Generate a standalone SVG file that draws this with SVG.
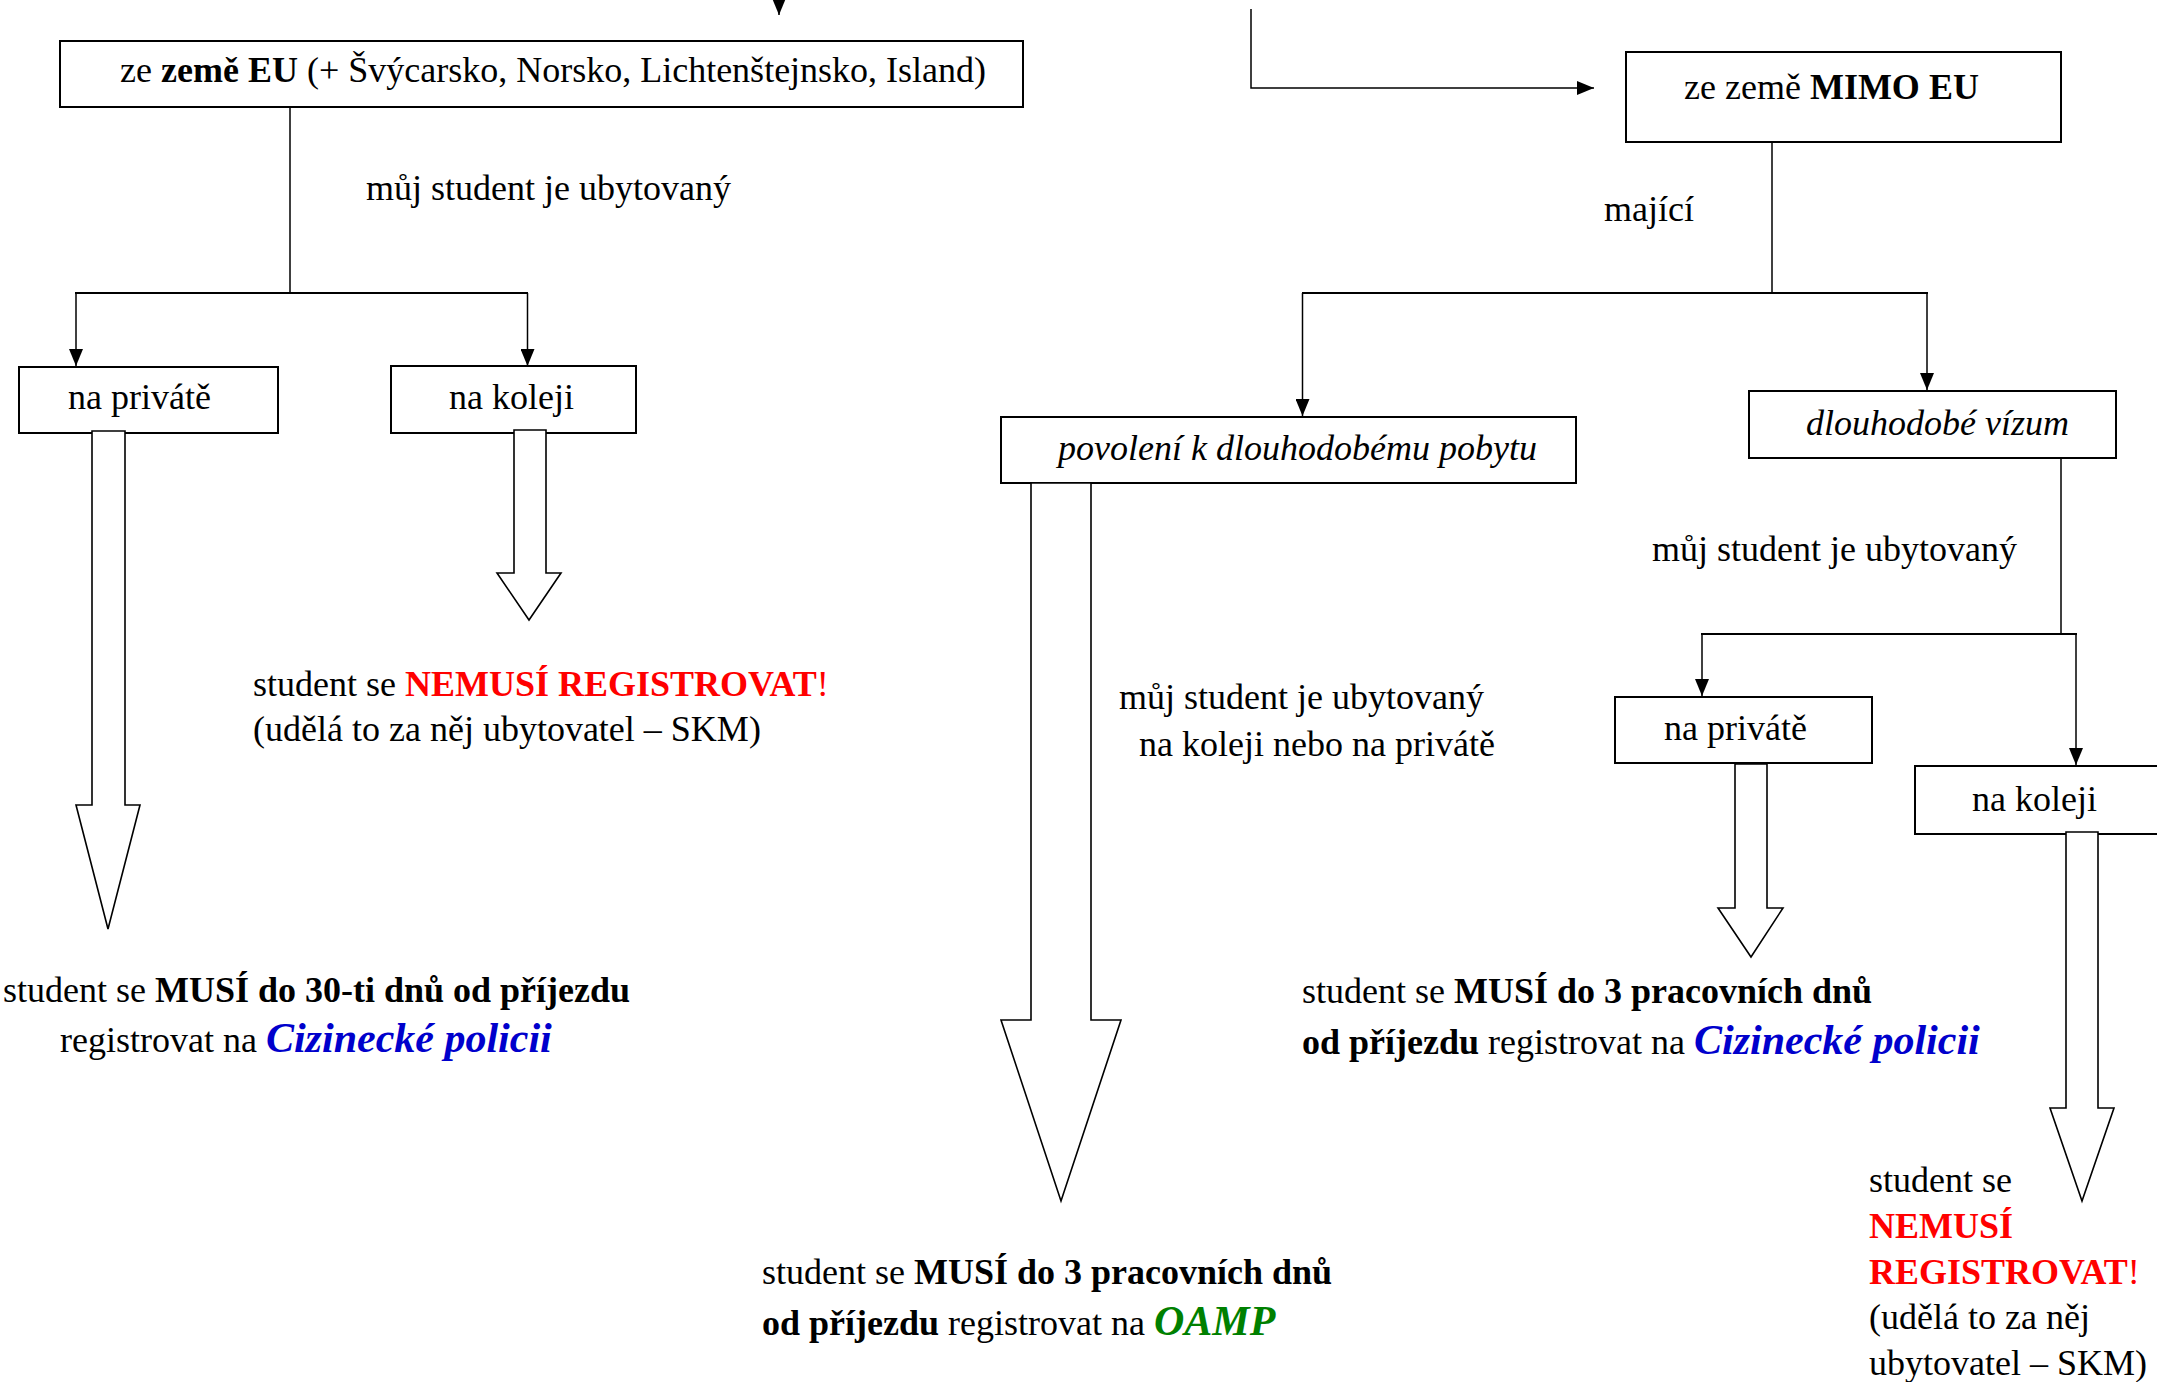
<svg xmlns="http://www.w3.org/2000/svg" width="2157" height="1382" viewBox="0 0 2157 1382">
<style>
text{font-family:"Liberation Serif","Times New Roman",serif;font-size:36px;fill:#000}
.b{font-weight:bold}
.i{font-style:italic}
.red{fill:#FF0000}
.blue{fill:#0000CC;font-weight:bold;font-style:italic;font-size:42px}
.green{fill:#008000;font-weight:bold;font-style:italic;font-size:42px}
.box{fill:#fff;stroke:#000;stroke-width:2}
.blk{fill:#fff;stroke:#000;stroke-width:1.6;stroke-linejoin:miter}
.ln{fill:none;stroke:#000;stroke-width:1.5}
.hl{fill:none;stroke:#000;stroke-width:2.2}
.ar{fill:none;stroke:#000;stroke-width:1.5;marker-end:url(#ah)}
</style>
<defs>
<marker id="ah" markerUnits="userSpaceOnUse" markerWidth="17" markerHeight="14" refX="17" refY="7" orient="auto">
<path d="M0,0 L17,7 L0,14 z" fill="#000"/>
</marker>
</defs>
<rect width="2157" height="1382" fill="#fff"/>

<g id="connectors">
<line class="ar" x1="779" y1="-20" x2="779" y2="15"/>
<polyline class="ar" points="1251,9 1251,88 1594,88"/>
<line class="ln" x1="290" y1="107" x2="290" y2="293"/>
<line class="hl" x1="75" y1="293" x2="528" y2="293"/>
<line class="ar" x1="76" y1="293" x2="76" y2="366"/>
<line class="ar" x1="527.5" y1="293" x2="527.5" y2="366"/>
<line class="ln" x1="1772" y1="142" x2="1772" y2="293"/>
<line class="hl" x1="1302" y1="293" x2="1928" y2="293"/>
<line class="ar" x1="1302.5" y1="293" x2="1302.5" y2="416"/>
<line class="ar" x1="1927" y1="293" x2="1927" y2="390"/>
<line class="ln" x1="2061" y1="457" x2="2061" y2="634"/>
<line class="hl" x1="1701" y1="634" x2="2077" y2="634"/>
<line class="ar" x1="1702" y1="634" x2="1702" y2="696"/>
<line class="ar" x1="2076" y1="634" x2="2076" y2="765"/>
</g>

<g id="node-eu">
<rect class="box" x="60" y="41" width="963" height="66"/>
<text x="120" y="82">ze <tspan class="b">země EU</tspan> (+ Švýcarsko, Norsko, Lichtenštejnsko, Island)</text>
</g>
<g id="label-eu-ubyt"><text x="366" y="200">můj student je ubytovaný</text></g>

<g id="node-eu-privat">
<rect class="box" x="19" y="367" width="259" height="66"/>
<text x="68" y="409">na privátě</text>
</g>
<g id="node-eu-kolej">
<rect class="box" x="391" y="366" width="245" height="67"/>
<text x="449" y="409">na koleji</text>
</g>

<g id="arrow-eu-privat"><polygon class="blk" points="92,431 125,431 125,805 140,805 108,929 76,805 92,805"/></g>
<g id="arrow-eu-kolej"><polygon class="blk" points="514,430 546,430 546,573 561,573 529,620 497,573 514,573"/></g>

<g id="result-eu-kolej">
<text x="253" y="696">student se <tspan class="b red">NEMUSÍ REGISTROVAT</tspan><tspan class="red">!</tspan></text>
<text x="253" y="741">(udělá to za něj ubytovatel – SKM)</text>
</g>
<g id="result-eu-privat">
<text x="3" y="1002">student se <tspan class="b">MUSÍ do 30-ti dnů od příjezdu</tspan></text>
<text x="60" y="1052">registrovat na <tspan class="blue">Cizinecké policii</tspan></text>
</g>

<g id="node-mimo">
<rect class="box" x="1626" y="52" width="435" height="90"/>
<text x="1684" y="99">ze země <tspan class="b">MIMO EU</tspan></text>
</g>
<g id="label-majici"><text x="1604" y="221">mající</text></g>

<g id="node-povoleni">
<rect class="box" x="1001" y="417" width="575" height="66"/>
<text class="i" x="1058" y="460">povolení k dlouhodobému pobytu</text>
</g>
<g id="node-vizum">
<rect class="box" x="1749" y="391" width="367" height="67"/>
<text class="i" x="1806" y="435">dlouhodobé vízum</text>
</g>

<g id="arrow-povoleni"><polygon class="blk" points="1031,483 1091,483 1091,1020 1121,1020 1061,1201 1001,1020 1031,1020"/></g>

<g id="label-povoleni"><text x="1119" y="709">můj student je ubytovaný</text><text x="1139" y="756">na koleji nebo na privátě</text></g>
<g id="label-vizum-ubyt"><text x="1652" y="561">můj student je ubytovaný</text></g>

<g id="node-vizum-privat">
<rect class="box" x="1615" y="697" width="257" height="66"/>
<text x="1664" y="740">na privátě</text>
</g>
<g id="node-vizum-kolej">
<rect class="box" x="1915" y="766" width="260" height="68"/>
<text x="1972" y="811">na koleji</text>
</g>

<g id="arrow-vizum-privat"><polygon class="blk" points="1735,764 1767,764 1767,908 1783,908 1751,957 1718,908 1735,908"/></g>
<g id="arrow-vizum-kolej"><polygon class="blk" points="2066,832 2098,832 2098,1108 2114,1108 2082,1201 2050,1108 2066,1108"/></g>

<g id="result-vizum-privat">
<text x="1302" y="1003">student se <tspan class="b">MUSÍ do 3 pracovních dnů</tspan></text>
<text x="1302" y="1054"><tspan class="b">od příjezdu</tspan> registrovat na <tspan class="blue">Cizinecké policii</tspan></text>
</g>
<g id="result-povoleni">
<text x="762" y="1284">student se <tspan class="b">MUSÍ do 3 pracovních dnů</tspan></text>
<text x="762" y="1335"><tspan class="b">od příjezdu</tspan> registrovat na <tspan class="green">OAMP</tspan></text>
</g>
<g id="result-vizum-kolej">
<text x="1869" y="1192">student se</text>
<text x="1869" y="1238" class="b red">NEMUSÍ</text>
<text x="1869" y="1284"><tspan class="b red">REGISTROVAT</tspan><tspan class="red">!</tspan></text>
<text x="1869" y="1329">(udělá to za něj</text>
<text x="1869" y="1375">ubytovatel – SKM)</text>
</g>
</svg>
